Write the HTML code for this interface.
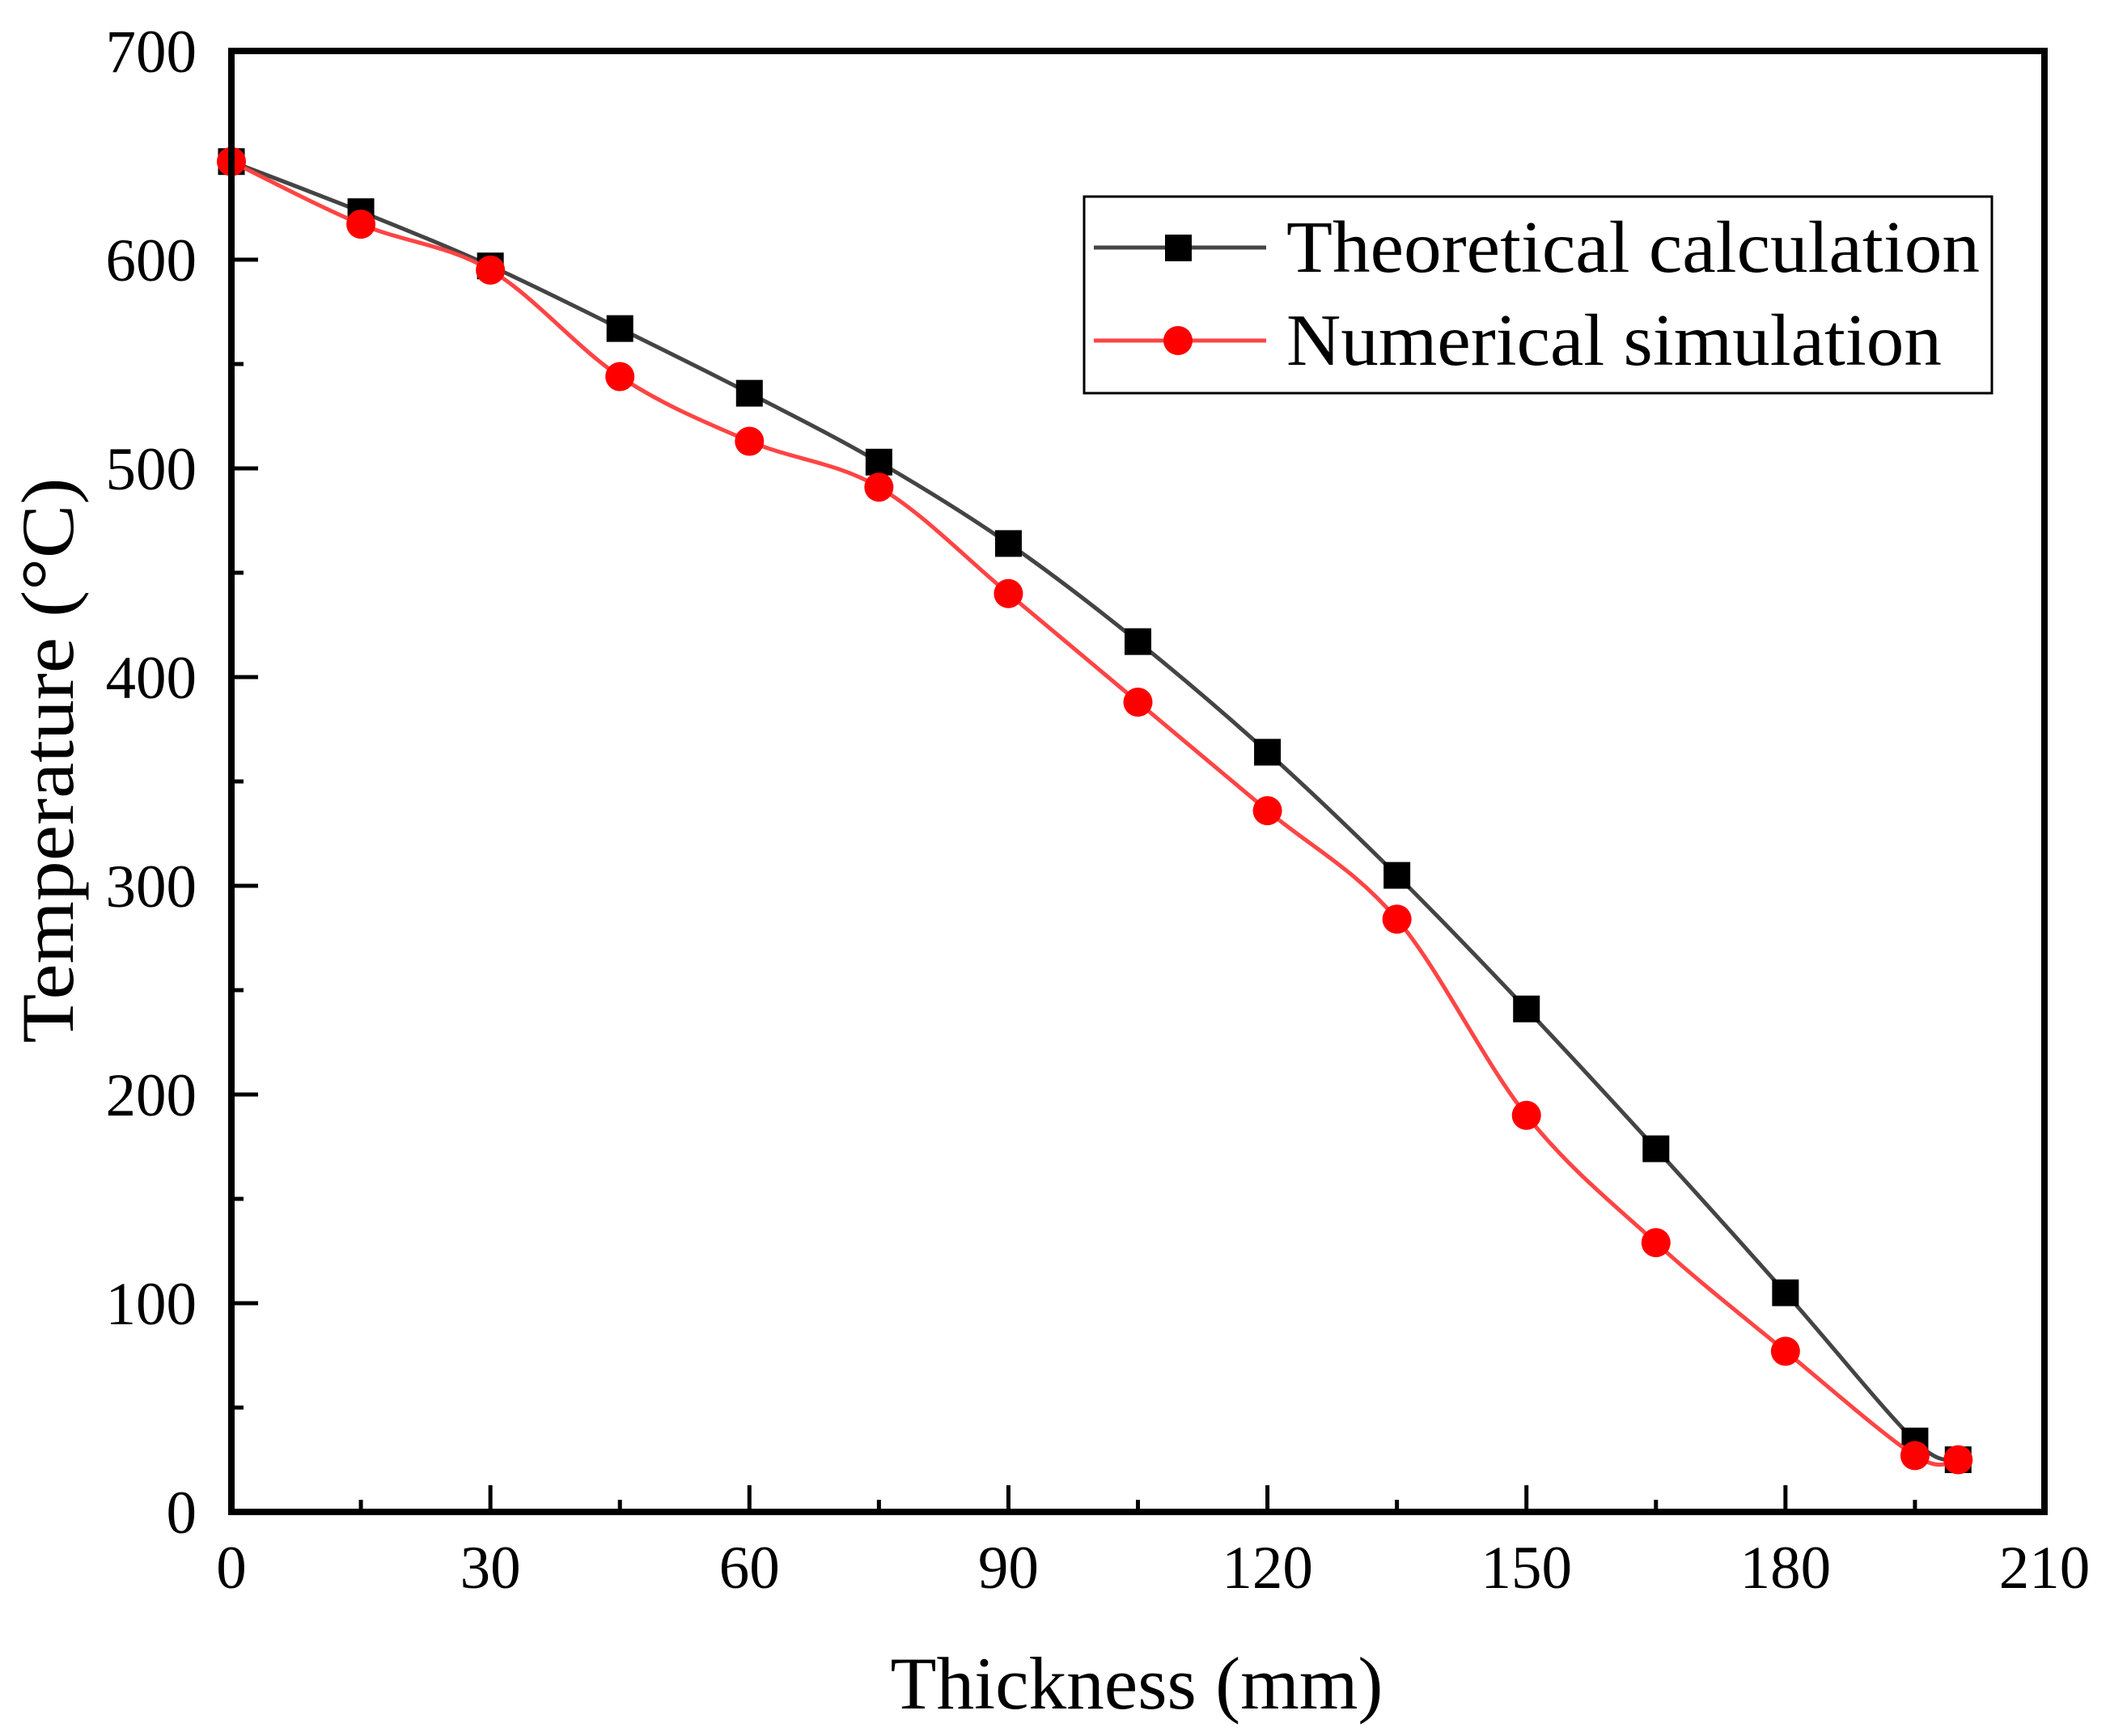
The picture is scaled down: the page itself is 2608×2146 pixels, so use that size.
<!DOCTYPE html>
<html><head><meta charset="utf-8"><style>
html,body{margin:0;padding:0;background:#fff;}
svg{display:block;font-family:"Liberation Serif",serif;}
</style></head><body>
<svg id="chart" width="2608" height="2146" viewBox="0 0 2608 2146" xmlns="http://www.w3.org/2000/svg">
<rect width="2608" height="2146" fill="#fff"/>
<g id="plot"></g>
<text x="1405" y="2112" font-size="92" text-anchor="middle" textLength="609" lengthAdjust="spacingAndGlyphs">Thickness (mm)</text>
<text transform="translate(90,940) rotate(-90)" font-size="92" text-anchor="middle" textLength="699" lengthAdjust="spacingAndGlyphs">Temperature (°C)</text>
<g>
<rect x="1340" y="243" width="1122" height="243" fill="#fff" stroke="#000" stroke-width="3"/>
<line x1="1352" y1="306" x2="1565" y2="306" stroke="#444" stroke-width="5"/>
<rect x="1440" y="290" width="33" height="33" fill="#000"/>
<text x="1590" y="336" font-size="91" textLength="857" lengthAdjust="spacingAndGlyphs">Theoretical calculation</text>
<line x1="1352" y1="421" x2="1565" y2="421" stroke="#f44" stroke-width="5"/>
<circle cx="1456" cy="421" r="18" fill="#f00"/>
<text x="1590" y="451" font-size="91" textLength="810" lengthAdjust="spacingAndGlyphs">Numerical simulation</text>
</g>
</svg>
<script>
const xValues = [0,15,30,45,60,75,90,105,120,135,150,165,180,195,200];
const theoretical = [647,623,597,567,536,503,464,417,364,305,241,174,105,34,25];
const numerical = [647,617,595,544,513,491,440,388,336,284,190,129,77,27,25];
const xTicks = [0,30,60,90,120,150,180,210];
const yTicks = [0,100,200,300,400,500,600,700];

const NS = "http://www.w3.org/2000/svg";
const L=286,R=2527,T=63,B=1869;
const sx = v => L + (v-0)/(210-0)*(R-L);
const sy = v => B - (v-0)/(700-0)*(B-T);
const g = document.getElementById('plot');
function mk(tag, attrs){const e=document.createElementNS(NS,tag);for(const k in attrs)e.setAttribute(k,attrs[k]);g.appendChild(e);return e;}

// ticks
for(let v=0; v<=210; v+=15){
  const major = v%30===0;
  const t = mk('line',{x1:sx(v),x2:sx(v),y1:B,y2:B-(major?33:15),stroke:'#000','stroke-width':5});
  
  
}
for(let v=0; v<=700; v+=50){
  const major = v%100===0;
  const t = mk('line',{x1:L,x2:L+(major?33:15),y1:sy(v),y2:sy(v),stroke:'#000','stroke-width':5});
  
  
}
xTicks.forEach(v=>{
  const t = mk('text',{x:sx(v),y:1963,'font-size':75,'text-anchor':'middle'});
  t.textContent=v;
  
  
});
yTicks.forEach(v=>{
  const t = mk('text',{x:243,y:sy(v)+26,'font-size':75,'text-anchor':'end'});
  t.textContent=v;
  
  
});

function spline(xs, ys){
  const p = xs.map((x,i)=>[sx(x),sy(ys[i])]);
  let d = `M${p[0][0]},${p[0][1]}`;
  for(let i=0;i<p.length-1;i++){
    const p0=p[i-1]||p[i], p1=p[i], p2=p[i+1], p3=p[i+2]||p2;
    const c1=[p1[0]+(p2[0]-p0[0])/6, p1[1]+(p2[1]-p0[1])/6];
    const c2=[p2[0]-(p3[0]-p1[0])/6, p2[1]-(p3[1]-p1[1])/6];
    d+=` C${c1[0]},${c1[1]} ${c2[0]},${c2[1]} ${p2[0]},${p2[1]}`;
  }
  return d;
}
const l1 = mk('path',{d:spline(xValues,theoretical),fill:'none',stroke:'#444','stroke-width':5});


xValues.forEach((x,i)=>{
  const m = mk('rect',{x:sx(x)-16.5,y:sy(theoretical[i])-16.5,width:33,height:33,fill:'#000'});
  
  
});
const l2 = mk('path',{d:spline(xValues,numerical),fill:'none',stroke:'#f44','stroke-width':5});


xValues.forEach((x,i)=>{
  const m = mk('circle',{cx:sx(x),cy:sy(numerical[i]),r:18,fill:'#f00'});
  
  
});
// axes frame
const f = mk('rect',{x:L,y:T,width:R-L,height:B-T,fill:'none',stroke:'#000','stroke-width':8});


</script>
</body></html>
